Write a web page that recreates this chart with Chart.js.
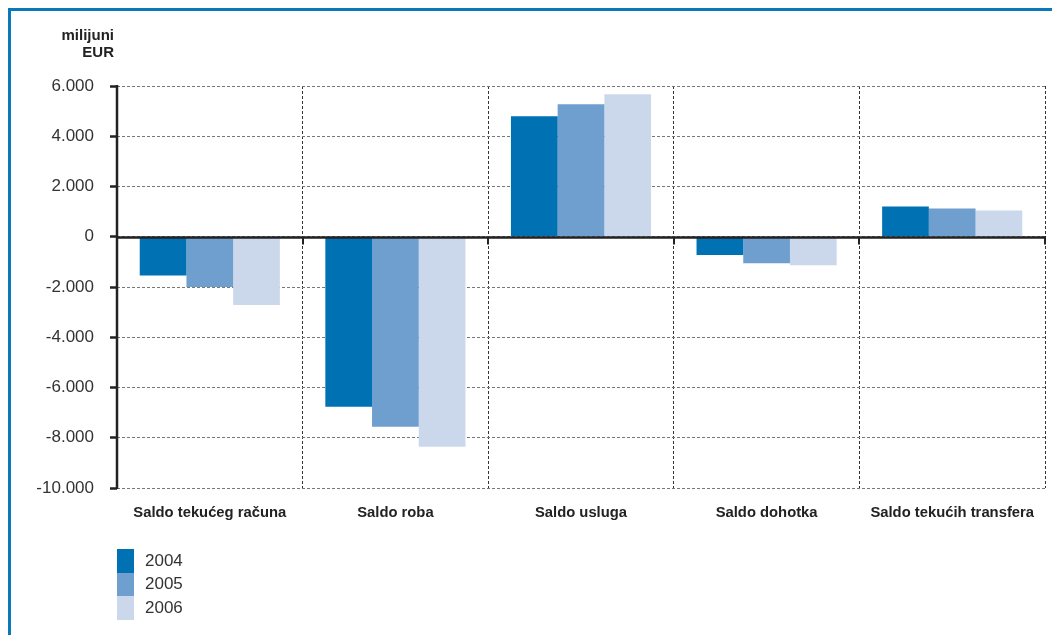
<!DOCTYPE html>
<html>
<head>
<meta charset="utf-8">
<script src="https://cdn.jsdelivr.net/npm/chart.js@4.4.1/dist/chart.umd.min.js"></script>
<style>
  body { margin: 0; background: #fff; font-family: "Liberation Sans", Arial, sans-serif; }
  #wrap { position: relative; width: 1052px; height: 635px; overflow: hidden; }
  #frame { position: absolute; left: 8px; top: 8px; right: -10px; bottom: -10px;
           border-left: 3px solid #0b78b9; border-top: 3px solid #0b78b9; }
  #unit { position: absolute; right: 938px; top: 26px; text-align: right;
          font-weight: bold; font-size: 15px; line-height: 17px; color: #222; }
  #legend { position: absolute; left: 117px; top: 549px; }
  .row { display: flex; align-items: center; height: 23.6px; }
  .box { width: 17px; height: 23.6px; }
  .lbl { margin-left: 11px; font-size: 17px; color: #333; }
  canvas { position: absolute; left: 0; top: 0; }
</style>
</head>
<body>
<div id="wrap">
  <div id="frame"></div>
  <canvas id="chart" width="1052" height="635"></canvas>
  <div id="unit">milijuni<br>EUR</div>
  <div id="legend"></div>
</div>
<script>
// kategorije
const categories = ["Saldo tekućeg računa", "Saldo roba", "Saldo usluga", "Saldo dohotka", "Saldo tekućih transfera"];
const years = ["2004", "2005", "2006"];
const colors = ["#0071b3", "#6e9fcf", "#cbd8eb"];

// milijuni EUR
const values2004 = [-1540, -6770, 4800, -730, 1200];
const values2005 = [-2000, -7565, 5275, -1050, 1120];
const values2006 = [-2720, -8360, 5670, -1130, 1040];

const yMin = -10000;
const yMax = 6000;
const yStep = 2000;

Chart.defaults.font.family = "'Liberation Sans', Arial, sans-serif";

// nula i y os
const axisLines = {
  id: "axisLines",
  afterDatasetsDraw(chart) {
    const { ctx, chartArea, scales: { x, y } } = chart;
    const y0 = Math.round(y.getPixelForValue(0)) + 0.5;
    ctx.save();
    ctx.strokeStyle = "#222";
    ctx.lineWidth = 2.5;
    ctx.beginPath();
    ctx.moveTo(chartArea.left, y0);
    ctx.lineTo(chartArea.right + 1, y0);
    ctx.stroke();

    ctx.lineWidth = 2;
    ctx.beginPath();
    for (let i = 1; i <= categories.length; i++) {
      const bx = Math.round(x.getPixelForValue(i - 0.5));
      ctx.moveTo(bx, y0);
      ctx.lineTo(bx, y0 + 7);
    }
    ctx.stroke();

    ctx.lineWidth = 2.5;
    ctx.beginPath();
    ctx.moveTo(chartArea.left, chartArea.top - 1);
    ctx.lineTo(chartArea.left, chartArea.bottom + 1);
    ctx.stroke();
    ctx.restore();
  },
};

const series = [values2004, values2005, values2006];

new Chart(document.getElementById("chart"), {
  type: "bar",
  data: {
    labels: categories,
    datasets: years.map((yr, i) => ({
      label: yr,
      data: series[i],
      backgroundColor: colors[i],
      borderWidth: 0,
      categoryPercentage: 0.755,
      barPercentage: 1.0,
    })),
  },
  options: {
    responsive: false,
    animation: false,
    layout: { padding: { top: 86, right: 7, left: 0, bottom: 0 } },
    plugins: {
      legend: { display: false },
      tooltip: { enabled: false },
    },
    scales: {
      x: {
        grid: {
          color: "#333",
          lineWidth: 1,
          drawTicks: false,
          offset: true,
        },
        border: { display: false, dash: [3, 2] },
        ticks: {
          color: "#222",
          padding: 16,
          font: { size: 14.8, weight: "bold" },
        },
        afterFit(scale) {
          scale.height = 147;
        },
      },
      y: {
        min: yMin,
        max: yMax,
        ticks: {
          stepSize: yStep,
          color: "#333",
          padding: 16,
          font: { size: 17 },
          callback: (v) => v.toString().replace(/\B(?=(\d{3})+(?!\d))/g, "."),
        },
        grid: {
          color: "#777",
          lineWidth: 1,
          drawTicks: true,
          tickLength: 7,
          tickWidth: 2.5,
          tickColor: "#222",
          tickBorderDash: [],
        },
        border: { display: false, dash: [3, 2] },
        afterFit(scale) {
          scale.width = 117;
        },
      },
    },
  },
  plugins: [axisLines],
});

// legenda
const legend = document.getElementById("legend");
years.forEach((yr, i) => {
  const row = document.createElement("div");
  row.className = "row";
  row.innerHTML = '<div class="box" style="background:' + colors[i] + '"></div><span class="lbl">' + yr + "</span>";
  legend.appendChild(row);
});
</script>
</body>
</html>
